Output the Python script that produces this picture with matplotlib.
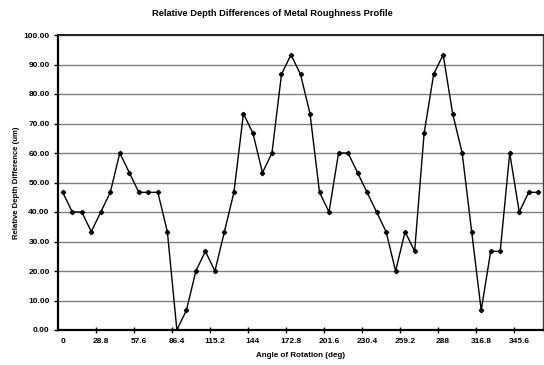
import numpy as np
import matplotlib
matplotlib.use("Agg")
import matplotlib.pyplot as plt

# angle of rotation (deg), one sample every 7.2 deg
angles = [round(7.2 * i, 1) for i in range(51)]
depth = [46.67, 40.00, 40.00, 33.33, 40.00, 46.67, 60.00, 53.33, 46.67, 46.67,
         46.67, 33.33, 0.00, 6.67, 20.00, 26.67, 20.00, 33.33, 46.67, 73.33,
         66.67, 53.33, 60.00, 86.67, 93.33, 86.67, 73.33, 46.67, 40.00, 60.00,
         60.00, 53.33, 46.67, 40.00, 33.33, 20.00, 33.33, 26.67, 66.67, 86.67,
         93.33, 73.33, 60.00, 33.33, 6.67, 26.67, 26.67, 60.00, 40.00, 46.67,
         46.67]
xtick_labels = ["0", "28.8", "57.6", "86.4", "115.2", "144", "172.8", "201.6",
                "230.4", "259.2", "288", "316.8", "345.6"]

plt.rcParams["font.family"] = ["Liberation Sans", "DejaVu Sans"]
plt.rcParams["font.weight"] = "bold"

fig = plt.figure(figsize=(5.44, 3.65), dpi=100)
ax = fig.add_axes([58 / 544, 35 / 365, 485 / 544, 295 / 365])

ax.plot(angles, depth, color="black", lw=1.0, marker="D", ms=2.2,
        mfc="black", mec="black", zorder=3)

ax.set_xlim(-3.6, 363.6)
ax.set_ylim(0, 100)

major = [28.8 * k for k in range(len(xtick_labels))]
ax.set_xticks(major)
ax.set_xticklabels(xtick_labels, fontsize=6, fontweight="bold")
ax.tick_params(axis="x", which="major", length=0, pad=6)
ax.set_xticks([-3.6 + 28.8 * k for k in range(1, 13)], minor=True)
ax.tick_params(axis="x", which="minor", length=4, width=1.0, direction="inout")

yt = np.arange(0, 101, 10)
ax.set_yticks(yt)
ax.set_yticklabels(["%.2f" % v for v in yt], fontsize=6, fontweight="bold")
ax.tick_params(axis="y", length=3, width=1.0, direction="out", pad=3)

ax.grid(axis="y", color="#808080", lw=1.0)
ax.set_axisbelow(True)

for s in ["left", "bottom"]:
    ax.spines[s].set_linewidth(1.6)
    ax.spines[s].set_color("black")
ax.spines["top"].set_linewidth(1.4)
ax.spines["top"].set_color("#202020")
ax.spines["right"].set_linewidth(1.0)
ax.spines["right"].set_color("#404040")

ax.set_xlabel("Angle of Rotation (deg)", fontsize=5.8, fontweight="bold", labelpad=5)
ax.set_ylabel("Relative Depth Difference (um)", fontsize=5.6, fontweight="bold")
ax.yaxis.set_label_coords(-(58 - 20) / 485, 0.5)
fig.text(0.5, 1 - 13 / 365, "Relative Depth Differences of Metal Roughness Profile",
         ha="center", va="center", fontsize=6.7, fontweight="bold")

fig.savefig("out.png", dpi=100)
